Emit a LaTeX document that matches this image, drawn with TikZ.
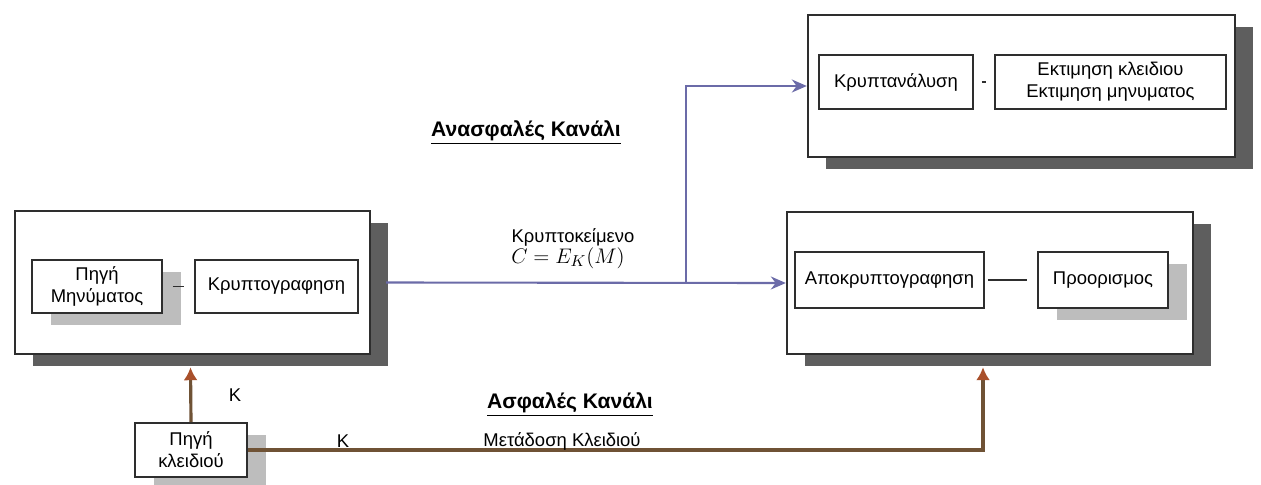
\documentclass[tikz,border=0pt]{standalone}
\usepackage{fontspec}
\setmainfont{Liberation Sans}
\usepackage{tikz}
\usetikzlibrary{arrows.meta,positioning,shadows,calc}
\definecolor{ink}{HTML}{2E2E2E}
\definecolor{slate}{HTML}{6B6BA8}
\definecolor{umber}{HTML}{6F5235}
\definecolor{rust}{HTML}{A9502B}
\definecolor{shade}{HTML}{5E5E5E}
\definecolor{paleshade}{HTML}{BDBDBD}
\tikzset{
  framebox/.style={draw=ink,line width=1.4pt,fill=white,inner sep=0pt,
    drop shadow={shadow xshift=0.36cm,shadow yshift=-0.24cm,fill=shade,opacity=1}},
  partbox/.style={draw=ink,line width=1pt,fill=white,align=center,inner sep=1pt,
    font=\fontsize{10.5}{12.5}\selectfont},
  paleshadowbox/.style={partbox,
    drop shadow={shadow xshift=0.38cm,shadow yshift=-0.24cm,fill=paleshade,opacity=1}},
  joinline/.style={draw=ink,line width=1pt},
  cflow/.style={-{Stealth[length=3mm,width=2.6mm]},line width=1.2pt,draw=slate},
  kflow/.style={line width=1.8pt,draw=umber,
    arrows={-{Latex[length=2.6mm,width=2.8mm,fill=rust,color=rust]}}},
  lbl/.style={font=\fontsize{10.5}{12.5}\selectfont},
  chanlbl/.style={font=\fontsize{12}{14}\bfseries\selectfont}
}
\begin{document}
\begin{tikzpicture}[x=0.02cm,y=-0.02cm]
  \useasboundingbox (0,0) rectangle (1261,484);
  \node[framebox,minimum width=7.1cm,minimum height=2.86cm] (srcbox) at (192.5,282.5) {};
  \node[framebox,minimum width=8.54cm,minimum height=2.84cm] (anlbox) at (1021.5,86) {};
  \node[framebox,minimum width=8.12cm,minimum height=2.84cm] (dstbox) at (990,283) {};
  \node[paleshadowbox,minimum width=2.6cm,minimum height=1.06cm] (msg) at (97,286.5) {Πηγή\\Μηνύματος};
  \node[partbox,minimum width=3.26cm,minimum height=1.06cm] (enc) at (276.5,286.5) {Κρυπτογραφηση};
  \node[partbox,minimum width=3.08cm,minimum height=1.08cm] (crypt) at (896,82) {Κρυπτανάλυση};
  \node[partbox,minimum width=4.62cm,minimum height=1.08cm] (est) at (1110.5,82) {Εκτιμηση κλειδιου\\Εκτιμηση μηνυματος};
  \node[partbox,minimum width=3.78cm,minimum height=1.12cm] (dec) at (889.5,280) {Αποκρυπτογραφηση};
  \node[paleshadowbox,minimum width=2.6cm,minimum height=1.12cm] (dest) at (1103,280) {Προορισμος};
  \node[paleshadowbox,minimum width=2.24cm,minimum height=1.08cm] (keysrc) at (191,450) {Πηγή\\κλειδιού};
  \draw[joinline,shorten <=0.2cm,shorten >=0.2cm] (msg) -- (enc);
  \draw[joinline,shorten <=0.16cm,shorten >=0.16cm] (crypt) -- (est);
  \draw[joinline,shorten <=0.06cm,shorten >=0.2cm] (dec) -- (dest);
  \coordinate (split) at (686,283);
  \draw[cflow] ([xshift=0.3cm]srcbox.east) -- (dstbox.west); \draw[cflow] (split) |- (anlbox.west);
  \draw[kflow] (keysrc.north) -- ($(srcbox.south)+(-2,12)$);
  \draw[kflow] (keysrc.east) -| ($(dstbox.south)+(-7,12)$);
  \node[chanlbl] (insecure) at (526,133) {\underline{Ανασφαλές Κανάλι}};
  \node[lbl] (ctext) at (573,237) {Κρυπτοκείμενο};
  \node[font=\fontsize{13}{15}\selectfont] (cform) at (568,258) {$C = E_K(M)$};
  \node[chanlbl] (secure) at (570,405) {\underline{Ασφαλές Κανάλι}};
  \node[lbl] (kup) at (235,395) {K};
  \node[lbl] (kright) at (343,441) {K};
  \node[lbl] (transmit) at (562,441) {Μετάδοση Κλειδιού};
\end{tikzpicture}
\end{document}
